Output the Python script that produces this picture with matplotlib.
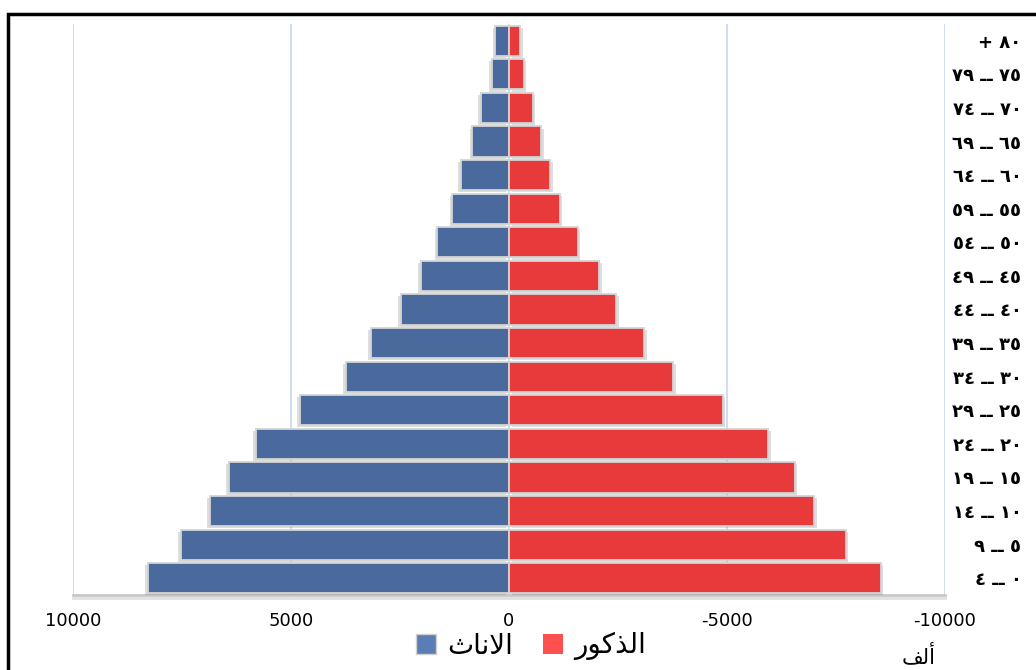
import matplotlib
matplotlib.use("Agg")
import matplotlib.pyplot as plt
import matplotlib.patheffects as pe
from matplotlib.patches import Rectangle, Patch
import numpy as np

plt.rcParams['axes.unicode_minus'] = False
plt.rcParams['font.family'] = ['DejaVu Sans']

# age groups, youngest first (0-4 ... 80+)
age_lo = [0, 5, 10, 15, 20, 25, 30, 35, 40, 45, 50, 55, 60, 65, 70, 75, 80]
age_hi = [4, 9, 14, 19, 24, 29, 34, 39, 44, 49, 54, 59, 64, 69, 74, 79, None]

# thousands
females = [8280, 7530, 6860, 6420, 5805, 4795, 3745, 3160, 2480, 2020,
           1640, 1300, 1110, 840, 640, 400, 310]
males = [8525, 7720, 7005, 6550, 5935, 4900, 3760, 3090, 2450, 2065,
         1575, 1160, 945, 740, 540, 335, 250]

xticks = [10000, 5000, 0, -5000, -10000]

# arabic words already shaped (presentation forms) in visual order
lbl_males = '\uFEAD\uFEEE\uFEDB\uFEAC\uFEDF\uFE8D'     # الذكور
lbl_females = '\uFE99\uFE8E\uFEE7\uFEFB\uFE8D'         # الاناث
lbl_unit = '\uFED2\uFEDF\uFE83'                        # ألف

AR_DIGITS = '٠١٢٣٤٥٦٧٨٩'


def ar_num(n):
    return ''.join(AR_DIGITS[int(c)] for c in str(n))


age_labels = []
for lo, hi in zip(age_lo, age_hi):
    if hi is None:
        age_labels.append('+ ' + ar_num(lo))
    else:
        age_labels.append(ar_num(hi) + ' \u0640\u0640 ' + ar_num(lo))

W, H = 1036, 670
fig = plt.figure(figsize=(W / 100, H / 100), dpi=100)
ax = fig.add_axes([73 / W, 1 - 595 / H, (945 - 73) / W, (595 - 24) / H])

blue = '#4a6a9d'
red = '#e8393b'
y = np.arange(len(age_lo))

fb = ax.barh(y, females, height=0.9, color=blue, edgecolor='#d4d4d4',
             linewidth=1.3, zorder=3)
mb = ax.barh(y, [-m for m in males], height=0.9, color=red, edgecolor='#d4d4d4',
             linewidth=1.3, zorder=3)
for b in fb:
    b.set_path_effects([pe.SimplePatchShadow(offset=(-2, -1.5), shadow_rgbFace='#000000', alpha=0.13),
                        pe.Normal()])
for b in mb:
    b.set_path_effects([pe.SimplePatchShadow(offset=(2, -1.5), shadow_rgbFace='#000000', alpha=0.13),
                        pe.Normal()])

ax.set_xlim(10000, -10000)
ax.set_ylim(-0.5, len(age_lo) - 0.5)

ax.set_xticks(xticks)
ax.set_xticklabels([str(t) for t in xticks], fontsize=13)
ax.tick_params(axis='x', length=0, pad=12)
ax.xaxis.grid(True, color='#c5d8ee', linewidth=1.2, zorder=0)
ax.set_axisbelow(True)

ax.set_yticks(y)
ax.set_yticklabels(age_labels, fontsize=13, fontweight='bold')
ax.yaxis.tick_right()
ax.tick_params(axis='y', length=0, pad=55)
for t in ax.get_yticklabels():
    t.set_ha('right')

for s in ['top', 'left', 'right']:
    ax.spines[s].set_visible(False)
ax.spines['bottom'].set_color('#c8c8c8')
ax.spines['bottom'].set_linewidth(2)
ax.spines['bottom'].set_path_effects([pe.SimpleLineShadow(offset=(0, -2), alpha=0.12), pe.Normal()])

handles = [Patch(facecolor='#5b7db6', edgecolor='#d0d0d0'),
           Patch(facecolor='#ff5050', edgecolor='none')]
fig.legend(handles, [lbl_females, lbl_males], loc='center', bbox_to_anchor=(531 / W, 1 - 646 / H),
           ncol=2, frameon=False, fontsize=20, handlelength=0.7, handleheight=0.7,
           handletextpad=0.4, columnspacing=1.1)

fig.text(919 / W, 1 - 656 / H, lbl_unit, fontsize=15, ha='center', va='center')

# outer black frame (runs off the right and bottom)
fig.patches.append(Rectangle((8 / W, -0.1), 1.2, 1 - 14 / H + 0.1, transform=fig.transFigure,
                             fill=False, edgecolor='black', linewidth=2.5))

fig.savefig('out.png', dpi=100)
